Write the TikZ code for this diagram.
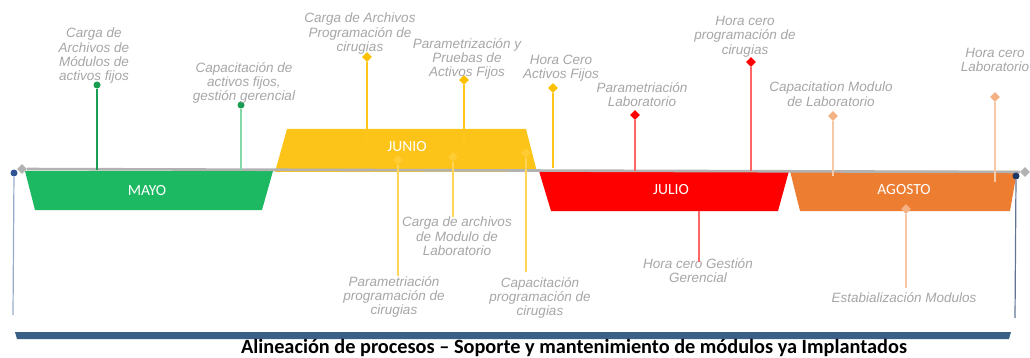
\documentclass[tikz,border=0pt]{standalone}
\usepackage{fontspec}
\setmainfont{Liberation Sans}
\newfontfamily\calibri{Carlito}
\usetikzlibrary{shapes.geometric}

\definecolor{mayo}{RGB}{29,185,98}
\definecolor{junio}{RGB}{252,196,25}
\definecolor{rombojunio}{RGB}{255,192,0}
\definecolor{julio}{RGB}{255,0,0}
\definecolor{agosto}{RGB}{237,125,49}
\definecolor{salmon}{RGB}{244,177,131}
\definecolor{etiqueta}{RGB}{166,166,166}
\definecolor{eje}{RGB}{178,178,178}
\definecolor{barra}{RGB}{58,96,136}
\definecolor{azul}{RGB}{47,85,151}
\definecolor{marino}{RGB}{31,56,100}

\begin{document}
\begin{tikzpicture}[x=1pt, y=-1pt,
    hito/.style={font=\itshape\fontsize{13.5}{14.3}\selectfont, text=etiqueta,
      align=center, inner sep=0pt, anchor=north},
    rombo/.style={diamond, fill=#1, inner sep=0pt, minimum size=10pt},
    punto/.style={circle, fill=#1, inner sep=0pt, minimum size=7pt},
    mes/.style={font=\calibri\fontsize{15.5}{16}\selectfont, text=white},
    palo/.style={draw=#1, line width=1.2pt}]
  \useasboundingbox (0,0) rectangle (1030,358);

  % meses
  \fill[mayo] (25,171) -- (273,171) -- (262,210) -- (35,210) -- cycle;
  \fill[junio] (287,129) -- (526,129) -- (537,172) -- (275,172) -- cycle;
  \fill[julio] (539,171) -- (789,171) -- (778,211) -- (551,211) -- cycle;
  \fill[agosto] (790,171) -- (1017,171) -- (1010,211) -- (800,211) -- cycle;
  \node[mes] (mayo) at (147,191) {MAYO};
  \node[mes] (junio) at (407,147) {JUNIO};
  \node[mes] (julio) at (671,190) {JULIO};
  \node[mes] (agosto) at (904,190) {AGOSTO};

  % eje
  \node[rombo=eje] (e0) at (22,169) {};
  \node[rombo=eje] (e1) at (1025,172) {};
  \draw[eje, line width=2.6pt] (e0) -- (e1);
  \node[punto=azul] (ini) at (14,173) {};
  \draw[azul!50, line width=1.2pt] (ini) -- (13,315);
  \node[punto=marino] (fin) at (1016,176) {};
  \draw[marino!70, line width=1.2pt] (fin) -- (1015,318);

  % hitos arriba
  \node[punto=mayo!85!black] (p1) at (97,85) {};
  \draw[palo=mayo!85!black] (p1) -- (p1 |- 0,170);
  \node[hito] (h1) at (94,28) {Carga de\\Archivos de\\Módulos de\\activos fijos};
  \node[punto=mayo!85!black] (p2) at (241,105) {};
  \draw[palo=mayo!55] (p2) -- (p2 |- 0,170);
  \node[hito] (h2) at (244,62) {Capacitación de\\activos fijos,\\gestión gerencial};
  \node[rombo=rombojunio] (p3) at (367,57) {};
  \draw[palo=rombojunio!90] (p3) -- (p3 |- 0,140);
  \node[hito] (h3) at (360,13) {Carga de Archivos\\Programación de\\cirugias};
  \node[rombo=rombojunio] (p4) at (464,80) {};
  \draw[palo=rombojunio!90] (p4) -- (p4 |- 0,147);
  \node[hito] (h4) at (467,38) {Parametrización y\\Pruebas de\\Activos Fijos};
  \node[rombo=rombojunio] (p5) at (553,88) {};
  \draw[palo=rombojunio!90] (p5) -- (p5 |- 0,168);
  \node[hito] (h5) at (561,55) {Hora Cero\\Activos Fijos};
  \node[rombo=julio] (p6) at (635,115) {};
  \draw[palo=julio!60] (p6) -- (p6 |- 0,171);
  \node[hito] (h6) at (642,82) {Parametriación\\Laboratorio};
  \node[rombo=julio] (p7) at (751,62) {};
  \draw[palo=julio!60] (p7) -- (p7 |- 0,171);
  \node[hito] (h7) at (745,16) {Hora cero\\programación de\\cirugias};
  \node[rombo=salmon] (p8) at (833,116) {};
  \draw[palo=salmon!70] (p8) -- (p8 |- 0,176);
  \node[hito] (h8) at (831,82) {Capacitation Modulo\\de Laboratorio};
  \node[rombo=salmon] (p9) at (995,97) {};
  \draw[palo=salmon!70] (p9) -- (p9 |- 0,182);
  \node[hito] (h9) at (995,48) {Hora cero\\Laboratorio};

  % hitos abajo
  \node[hito] (h10) at (394,276) {Parametriación\\programación de\\cirugias};
  \node[rombo=rombojunio!80] (p10) at (398,160) {};
  \draw[palo=rombojunio!65] (p10) -- (p10 |- h10.north);
  \node[hito] (h11) at (457,217) {Carga de archivos\\de Modulo de\\Laboratorio};
  \node[rombo=rombojunio!80] (p11) at (453,157) {};
  \draw[palo=rombojunio!65] (p11) -- (p11 |- h11.north);
  \node[hito] (h12) at (540,277) {Capacitación\\programación de\\cirugias};
  \node[rombo=rombojunio!80] (p12) at (526,153) {};
  \draw[palo=rombojunio!65] (p12) -- (p12 |- 0,272);
  \node[hito] (h13) at (698,258) {Hora cero Gestión\\Gerencial};
  \coordinate (p13) at (699,211);
  \draw[palo=julio!60] (p13) -- (p13 |- 0,262);
  \node[hito] (h14) at (904,292) {Estabialización Modulos};
  \node[rombo=salmon] (p14) at (906,209) {};
  \draw[palo=salmon!70] (p14) -- (p14 |- 0,288);

  % barra y titulo
  \fill[barra] (15,332) -- (1011,332) -- (1009,339) -- (17,339) -- cycle;
  \node[font=\calibri\bfseries\fontsize{20.3}{20}\selectfont, anchor=base] (titulo) at (574,353.5)
    {Alineación de procesos – Soporte y mantenimiento de módulos ya Implantados};
\end{tikzpicture}
\end{document}
